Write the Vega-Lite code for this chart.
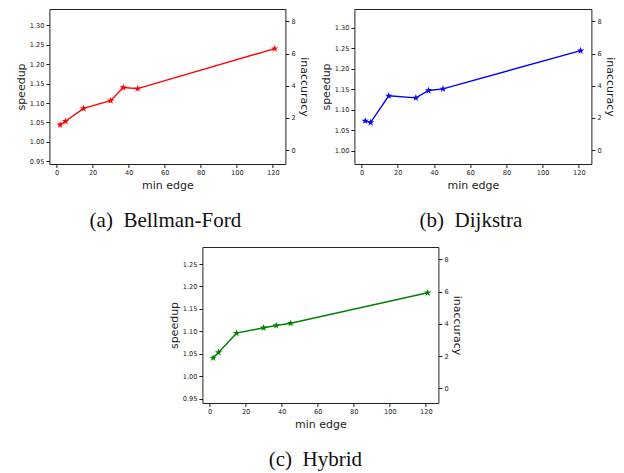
{
  "$schema": "https://vega.github.io/schema/vega-lite/v6.json",
  "padding": {"left": 14, "top": 8, "right": 2, "bottom": 2},
  "background": "white",
  "center": true,
  "spacing": 14,
  "config": {
    "view": {"stroke": "#222", "strokeWidth": 1},
    "axis": {
      "grid": false, "domain": false, "labelOverlap": false, "labelFlush": false,
      "labelFont": "DejaVu Sans", "labelFontSize": 6.6, "labelColor": "#1a1a1a", "labelPadding": 2,
      "tickColor": "#222", "tickSize": 3.5,
      "titleFont": "DejaVu Sans", "titleFontSize": 11, "titleFontWeight": "normal", "titleColor": "#222", "titlePadding": 3
    },
    "title": {"font": "Liberation Serif", "fontSize": 21, "fontWeight": "normal", "color": "#111", "orient": "bottom", "offset": 20}
  },
  "vconcat": [
    {
      "hconcat": [
        {
          "width": 236, "height": 155,
          "title": {"text": "(a)\u00a0\u00a0Bellman-Ford", "dx": -2},
          "data": {"values": [
            {"min_edge": 2, "speedup": 1.044},
            {"min_edge": 5, "speedup": 1.053},
            {"min_edge": 15, "speedup": 1.086},
            {"min_edge": 30, "speedup": 1.106},
            {"min_edge": 37, "speedup": 1.140},
            {"min_edge": 45, "speedup": 1.137},
            {"min_edge": 121, "speedup": 1.240}
          ]},
          "layer": [
            {
              "layer": [
                {"mark": {"type": "line", "color": "#ff0000", "strokeWidth": 1.4}},
                {"mark": {"type": "point", "filled": true, "color": "#ff0000", "opacity": 1, "size": 60, "shape": "M0,-1L0.2245,-0.309L0.951,-0.309L0.363,0.118L0.588,0.809L0,0.382L-0.588,0.809L-0.363,0.118L-0.951,-0.309L-0.2245,-0.309Z"}}
              ],
              "encoding": {
                "x": {"field": "min_edge", "type": "quantitative", "title": "min edge", "scale": {"domain": [-3.95, 126.95], "nice": false, "zero": false}, "axis": {"values": [0, 20, 40, 60, 80, 100, 120]}},
                "y": {"field": "speedup", "type": "quantitative", "title": "speedup", "scale": {"domain": [0.943, 1.342], "nice": false, "zero": false}, "axis": {"values": [0.95, 1.0, 1.05, 1.1, 1.15, 1.2, 1.25, 1.3], "format": ".2f"}}
              }
            },
            {
              "mark": {"type": "point", "opacity": 0},
              "encoding": {
                "x": {"field": "min_edge", "type": "quantitative", "title": "min edge", "axis": {"values": [0, 20, 40, 60, 80, 100, 120]}},
                "y": {"field": "inaccuracy", "type": "quantitative", "title": "inaccuracy", "scale": {"domain": [-0.87, 8.77], "nice": false, "zero": false}, "axis": {"orient": "right", "values": [0, 2, 4, 6, 8]}}
              }
            }
          ],
          "resolve": {"scale": {"y": "independent"}}
        },
        {
          "width": 237, "height": 155,
          "title": {"text": "(b)\u00a0\u00a0Dijkstra", "dx": -2},
          "data": {"values": [
            {"min_edge": 2, "speedup": 1.073},
            {"min_edge": 5, "speedup": 1.069},
            {"min_edge": 15, "speedup": 1.134},
            {"min_edge": 30, "speedup": 1.129},
            {"min_edge": 37, "speedup": 1.147},
            {"min_edge": 45, "speedup": 1.151},
            {"min_edge": 121, "speedup": 1.244}
          ]},
          "layer": [
            {
              "layer": [
                {"mark": {"type": "line", "color": "#0000ff", "strokeWidth": 1.4}},
                {"mark": {"type": "point", "filled": true, "color": "#0000ff", "opacity": 1, "size": 60, "shape": "M0,-1L0.2245,-0.309L0.951,-0.309L0.363,0.118L0.588,0.809L0,0.382L-0.588,0.809L-0.363,0.118L-0.951,-0.309L-0.2245,-0.309Z"}}
              ],
              "encoding": {
                "x": {"field": "min_edge", "type": "quantitative", "title": "min edge", "scale": {"domain": [-3.95, 126.95], "nice": false, "zero": false}, "axis": {"values": [0, 20, 40, 60, 80, 100, 120]}},
                "y": {"field": "speedup", "type": "quantitative", "title": "speedup", "scale": {"domain": [0.968, 1.3455], "nice": false, "zero": false}, "axis": {"values": [1.0, 1.05, 1.1, 1.15, 1.2, 1.25, 1.3], "format": ".2f"}}
              }
            },
            {
              "mark": {"type": "point", "opacity": 0},
              "encoding": {
                "x": {"field": "min_edge", "type": "quantitative", "title": "min edge", "axis": {"values": [0, 20, 40, 60, 80, 100, 120]}},
                "y": {"field": "inaccuracy", "type": "quantitative", "title": "inaccuracy", "scale": {"domain": [-0.87, 8.77], "nice": false, "zero": false}, "axis": {"orient": "right", "values": [0, 2, 4, 6, 8]}}
              }
            }
          ],
          "resolve": {"scale": {"y": "independent"}}
        }
      ],
      "spacing": 9
    },
    {
      "width": 236, "height": 156,
      "title": {"text": "(c)\u00a0\u00a0Hybrid", "dx": -5},
      "data": {"values": [
        {"min_edge": 2, "speedup": 1.041},
        {"min_edge": 5, "speedup": 1.053},
        {"min_edge": 15, "speedup": 1.096},
        {"min_edge": 30, "speedup": 1.108},
        {"min_edge": 37, "speedup": 1.113},
        {"min_edge": 45, "speedup": 1.118},
        {"min_edge": 121, "speedup": 1.186}
      ]},
      "layer": [
        {
          "layer": [
            {"mark": {"type": "line", "color": "#008000", "strokeWidth": 1.4}},
            {"mark": {"type": "point", "filled": true, "color": "#008000", "opacity": 1, "size": 60, "shape": "M0,-1L0.2245,-0.309L0.951,-0.309L0.363,0.118L0.588,0.809L0,0.382L-0.588,0.809L-0.363,0.118L-0.951,-0.309L-0.2245,-0.309Z"}}
          ],
          "encoding": {
            "x": {"field": "min_edge", "type": "quantitative", "title": "min edge", "scale": {"domain": [-3.95, 126.95], "nice": false, "zero": false}, "axis": {"values": [0, 20, 40, 60, 80, 100, 120]}},
            "y": {"field": "speedup", "type": "quantitative", "title": "speedup", "scale": {"domain": [0.9404, 1.288], "nice": false, "zero": false}, "axis": {"values": [0.95, 1.0, 1.05, 1.1, 1.15, 1.2, 1.25], "format": ".2f"}}
          }
        },
        {
          "mark": {"type": "point", "opacity": 0},
          "encoding": {
            "x": {"field": "min_edge", "type": "quantitative", "title": "min edge", "axis": {"values": [0, 20, 40, 60, 80, 100, 120]}},
            "y": {"field": "inaccuracy", "type": "quantitative", "title": "inaccuracy", "scale": {"domain": [-0.91, 8.77], "nice": false, "zero": false}, "axis": {"orient": "right", "values": [0, 2, 4, 6, 8]}}
          }
        }
      ],
      "resolve": {"scale": {"y": "independent"}}
    }
  ]
}
